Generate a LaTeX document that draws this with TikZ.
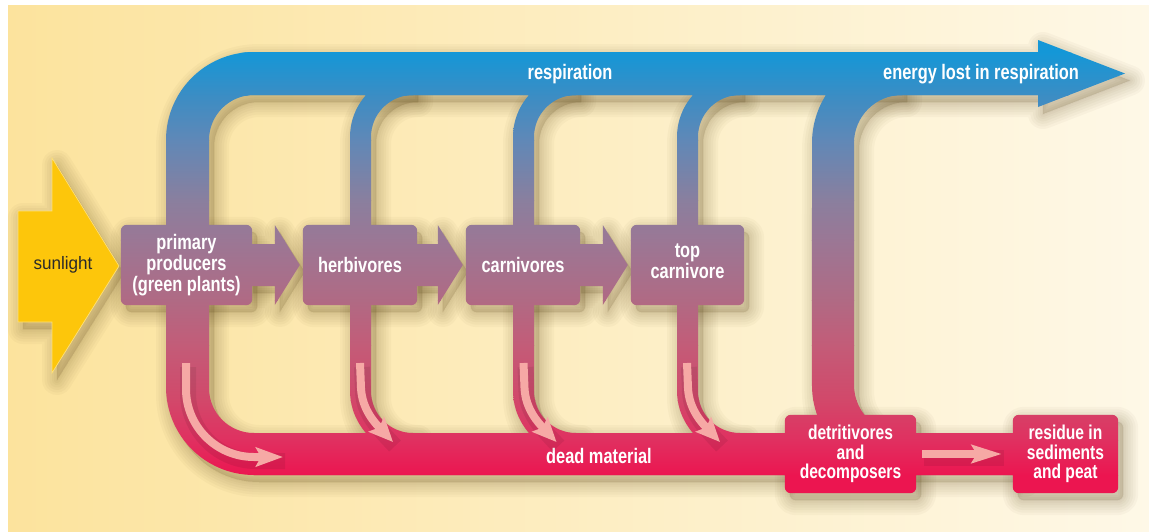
\documentclass[tikz,border=0pt]{standalone}
\usepackage{fontspec}
\usetikzlibrary{arrows.meta,calc}
\newfontfamily\labelfont{Liberation Sans}[FakeStretch=0.78]
\newfontfamily\sunfont{Liberation Sans}[FakeStretch=0.95]
\definecolor{bgL}{HTML}{FCE39D}
\definecolor{bgR}{HTML}{FEF8E7}
\definecolor{sunC}{HTML}{FDC60B}
\definecolor{sunText}{HTML}{2A2A2A}
\definecolor{pinkA}{HTML}{F6A9A5}
\definecolor{shadowC}{HTML}{4A3408}
\definecolor{g0}{HTML}{1497D7}
\definecolor{g1}{HTML}{3B8DC4}
\definecolor{g2}{HTML}{6088B7}
\definecolor{g3}{HTML}{8A7F9E}
\definecolor{g4}{HTML}{9B7795}
\definecolor{g5}{HTML}{B06A84}
\definecolor{g6}{HTML}{C35C78}
\definecolor{g7}{HTML}{D2486A}
\definecolor{g8}{HTML}{E03060}
\definecolor{g9}{HTML}{EC1550}
\pgfdeclarelayer{bglayer}
\pgfdeclarelayer{shadowlayer}
\pgfdeclarelayer{flowlayer}
\pgfsetlayers{bglayer,shadowlayer,flowlayer,main}
\tikzset{
  flow/.style={path picture={
    \foreach \ya/\yb/\ca/\cb in {20/52/g0/g0,52/95/g0/g1,95/140/g1/g2,140/200/g2/g3,200/240/g3/g4,240/300/g4/g5,300/345/g5/g6,345/400/g6/g7,400/440/g7/g8,440/475/g8/g9,475/520/g9/g9}
      {\shade[top color=\ca,bottom color=\cb] (0,\ya) rectangle (1149,\yb+0.7);}
  }},
  shadowpass/.style={draw=shadowC,draw opacity=0.03,line width=#1,line join=round,
    fill=shadowC,fill opacity=0.02,transform canvas={shift={(5pt,-7pt)}}},
  boxnode/.style={text=white,font=\labelfont\bfseries\fontsize{21}{19}\selectfont,align=center,inner sep=0pt,minimum height=80pt},
  lowbox/.style={boxnode,font=\labelfont\bfseries\fontsize{20}{19.5}\selectfont,minimum height=78pt},
  labeltext/.style={text=white,font=\labelfont\bfseries\fontsize{21}{21}\selectfont,anchor=base,inner sep=0pt},
  pinkarrow/.style={draw=pinkA,line width=8pt},
  pinkshade/.style={draw=black,opacity=0.07,transform canvas={shift={(2pt,-4pt)}}},
}
\newcommand\sunshape[1]{%
  \path[#1] (18,211) -- (52,211) -- (52,158) -- (119,266) -- (52,373) -- (52,322) -- (18,322) -- cycle;}
\newcommand\fatarrow[3]{%
  \path[#1] let \p1=(#2.east), \p2=(#3.west) in
    (\x1-4pt,\y1+21pt) -- (\x2-28pt,\y1+21pt) -- (\x2-28pt,\y1+40pt) -- (\x2-3pt,\y1)
    -- (\x2-28pt,\y1-40pt) -- (\x2-28pt,\y1-21pt) -- (\x1-4pt,\y1-21pt) -- cycle;}
\newcommand\flowshapes[1]{%
  \path[#1] (1038,95) -- (1038,107) -- (1125,73.5) -- (1038,40) -- (1038,52) -- (254,52)
     arc[start angle=270,end angle=180,radius=88] -- (166,387)
     arc[start angle=180,end angle=90,radius=88] -- (1020,475) -- (1020,433) -- (254,433)
     arc[start angle=90,end angle=180,radius=45] -- (209,140)
     arc[start angle=180,end angle=270,radius=45] -- cycle;
  \foreach \bx in {350,513,677}{%
    \path[#1] (\bx,137) arc[start angle=180,end angle=245,radius=63] -- (\bx+63,80) -- (\bx+63,95)
      arc[start angle=270,end angle=180,radius=42] -- (\bx+21,391)
      arc[start angle=180,end angle=90,radius=42] -- (\bx+63,448) -- (\bx+36.4,448.1)
      arc[start angle=115,end angle=180,radius=63] -- cycle;}
  \path[#1] (812,143) arc[start angle=180,end angle=240,radius=90] -- (902,65) -- (902,95)
      arc[start angle=270,end angle=180,radius=48] -- (854,385)
      arc[start angle=180,end angle=130,radius=48] -- (820.4,423)
      arc[start angle=155,end angle=180,radius=90] -- cycle;
  \foreach \b in {pp,hb,cv,tc,dd,rs}{%
    \path[#1,rounded corners=6pt] (\b.north west) rectangle (\b.south east);}
  \fatarrow{#1}{pp}{hb}\fatarrow{#1}{hb}{cv}\fatarrow{#1}{cv}{tc}%
}
\begin{document}
\begin{tikzpicture}[x=1pt,y=-1pt]
\useasboundingbox (0,0) rectangle (1149,531);
% nodes
\node[font=\sunfont\fontsize{18}{20}\selectfont,text=sunText,inner sep=0pt] (sun) at (63,265) {sunlight};
\node[boxnode,minimum width=131pt,font=\labelfont\bfseries\fontsize{21}{21}\selectfont] (pp) at (186.5,265) {primary\\producers\\(green plants)};
\node[boxnode,minimum width=114pt] (hb) at (360,265) {herbivores};
\node[boxnode,minimum width=114pt] (cv) at (523,265) {carnivores};
\node[boxnode,minimum width=113pt] (tc) at (687.5,265) {top\\carnivore\rule[-8pt]{0pt}{8pt}};
\node[lowbox,minimum width=131pt] (dd) at (850.5,454) {detritivores\\and\\decomposers};
\node[lowbox,minimum width=105pt] (rs) at (1065.5,454) {residue in\\sediments\\and peat};
\node[labeltext] (resp) at (570,79) {respiration};
\node[labeltext] (lost) at (981,79) {energy lost in respiration};
\node[labeltext] (dead) at (599,463) {dead material};
% background
\begin{pgfonlayer}{bglayer}
  \fill[white] (0,0) rectangle (1149,531);
  \shade[left color=bgL,right color=bgR] (8,5) rectangle (1149,531);
\end{pgfonlayer}
% soft shadows
\begin{pgfonlayer}{shadowlayer}
  \foreach \w in {30,25,20,15,10,6,2}{
    \sunshape{shadowpass=\w pt}
    \flowshapes{shadowpass=\w pt}
  }
\end{pgfonlayer}
% fills
\begin{pgfonlayer}{flowlayer}
  \sunshape{fill=sunC,draw=sunC!55!white,line width=0.7pt}
  \flowshapes{flow}
\end{pgfonlayer}
% pink arrows
\coordinate (pa0) at (186,363);
\coordinate (pa1) at (283,457);
\draw[pinkshade,line width=16pt] (pa0) -- (186,389) arc[start angle=180,end angle=90,radius=68] -- (pa1);
\draw[pinkarrow,-{Stealth[length=27pt,width=19pt,inset=5pt]}] (pa0) -- (186,389) arc[start angle=180,end angle=90,radius=68] -- (pa1);
\foreach \ax in {360,523.5,687}{
  \draw[pinkshade,line width=16pt] (\ax,363) -- (\ax+1,388) .. controls (\ax+2,410) and (\ax+16,424) .. (\ax+33,442);
  \draw[pinkarrow,-{Stealth[length=24pt,width=21pt,inset=4pt]}] (\ax,363) -- (\ax+1,388) .. controls (\ax+2,410) and (\ax+16,424) .. (\ax+33,442);
}
\draw[pinkshade,line width=16pt] ([xshift=6pt]dd.east) -- ([xshift=-11pt]rs.west);
\draw[pinkarrow,-{Stealth[length=30pt,width=18pt,inset=5pt]}] ([xshift=6pt]dd.east) -- ([xshift=-11pt]rs.west);
\end{tikzpicture}
\end{document}
